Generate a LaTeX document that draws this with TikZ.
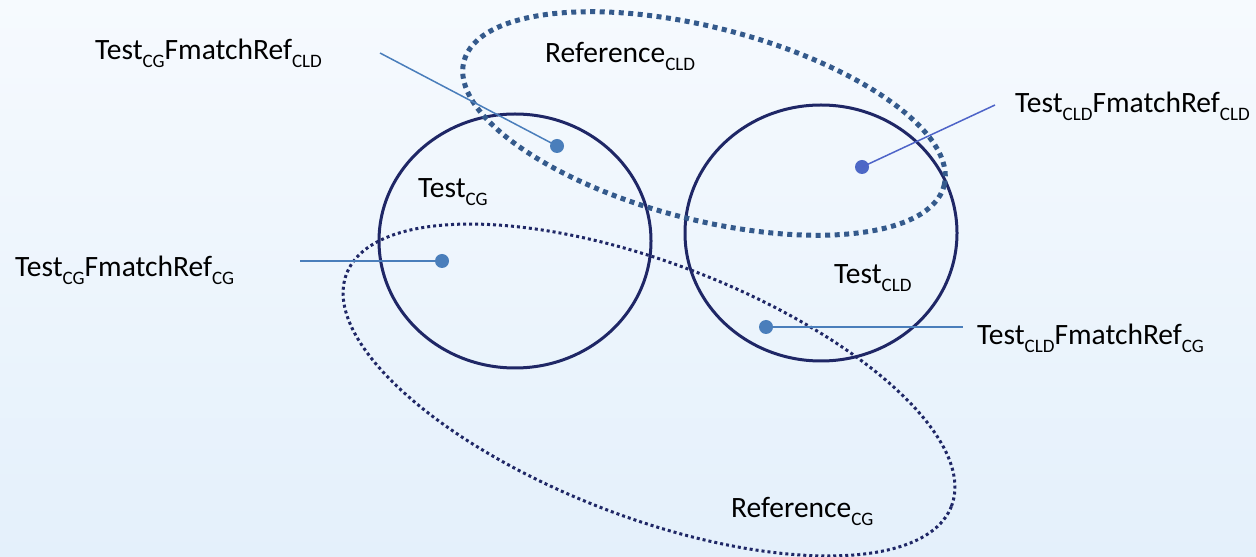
\documentclass[tikz,border=0pt]{standalone}
\usepackage{fontspec}
\setmainfont{Carlito}
\newcommand\sbs[1]{\raisebox{-8pt}{\fontsize{19}{19}\selectfont #1}}
\definecolor{navy}{RGB}{31,39,102}
\definecolor{steel}{RGB}{52,90,140}
\definecolor{dotblue}{RGB}{74,126,187}
\definecolor{violetblue}{RGB}{78,100,200}
\definecolor{bgtop}{RGB}{246,250,254}
\definecolor{bgmid}{RGB}{252,253,255}
\definecolor{bgbot}{RGB}{228,240,251}
\begin{document}
\begin{tikzpicture}[x=1pt,y=1pt,
  lbl/.style={anchor=base west,inner sep=0pt,font=\fontsize{29.5}{34}\selectfont},
  pt/.style={circle,fill=dotblue,minimum size=14pt,inner sep=0pt},
  leader/.style={dotblue,line width=1.5pt},
  ring/.style={navy,line width=3pt},
  refcld/.style={steel,line width=5pt,dash pattern=on 5pt off 4.5pt},
  refcg/.style={navy,line width=3pt,dash pattern=on 3pt off 3pt}]
\useasboundingbox (0,0) rectangle (1256,557);
\shade[top color=bgtop,middle color=bgmid,bottom color=bgbot] (0,0) rectangle (1256,557);
% circles
\draw[ring] (515,316) ellipse [x radius=136,y radius=127];
\draw[ring] (821,324) ellipse [x radius=136,y radius=128];
% reference ellipses
\draw[refcld,rotate around={-14.5:(704,433.5)}] (704,433.5) ellipse [x radius=248,y radius=96];
\draw[refcg,rotate around={-21:(649,167)}] (649,167) ellipse [x radius=324,y radius=127];
% points
\node[pt] (d1) at (557,411) {};
\node[pt] (d2) at (442,296) {};
\node[pt,fill=violetblue!85!dotblue] (d3) at (862,390) {};
\node[pt] (d4) at (766,230) {};
\coordinate (c1) at (380,504);
\coordinate (c2) at (300,296);
\coordinate (c3) at (995,452);
\coordinate (c4) at (963,230);
\draw[leader] (c1) -- (d1.center);
\draw[leader] (c2) -- (d2.center);
\draw[leader,violetblue] (c3) -- (d3.center);
\draw[leader] (d4.center) -- (c4);
% labels
\node[lbl] (l1) at (95,497) {Test\sbs{CG}FmatchRef\sbs{CLD}};
\node[lbl] (l2) at (545,494) {Reference\sbs{CLD}};
\node[lbl] (l3) at (1015,444) {Test\sbs{CLD}FmatchRef\sbs{CLD}};
\node[lbl] (l4) at (418,359) {Test\sbs{CG}};
\node[lbl] (l5) at (15,280) {Test\sbs{CG}FmatchRef\sbs{CG}};
\node[lbl] (l6) at (834,273) {Test\sbs{CLD}};
\node[lbl] (l7) at (977,212) {Test\sbs{CLD}FmatchRef\sbs{CG}};
\node[lbl] (l8) at (731,39) {Reference\sbs{CG}};
\end{tikzpicture}
\end{document}
